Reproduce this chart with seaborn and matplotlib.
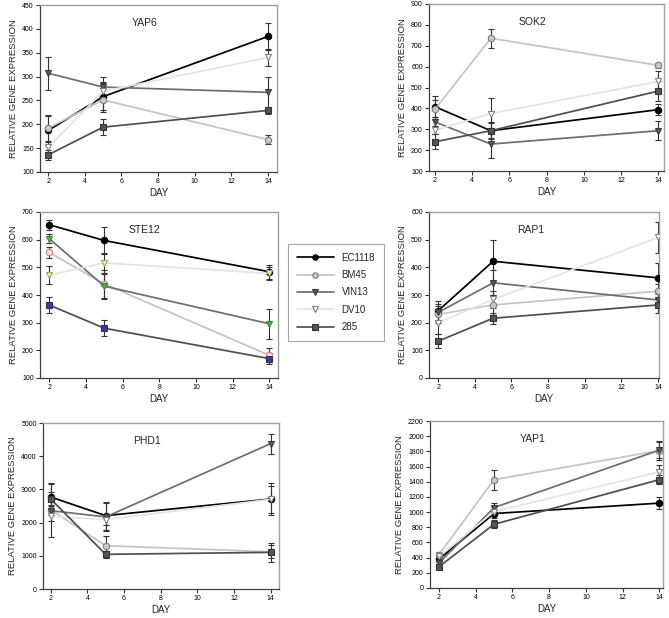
import matplotlib
matplotlib.use("Agg")
import matplotlib.pyplot as plt
import seaborn as sns
import pandas as pd

sns.set_style("ticks")
plt.rcParams['font.family'] = ['Liberation Sans', 'DejaVu Sans']

days = [2, 5, 14]
strains = ["EC1118", "BM45", "VIN13", "DV10", "285"]

# values per strain (rows in order of `strains`), columns = days
yap6_vals = [[187, 258, 384], [192, 251, 168], [307, 278, 267], [152, 269, 340], [136, 194, 229]]
yap6_errs = [[30, 28, 28], [28, 25, 10], [35, 22, 33], [10, 20, 18], [10, 17, 8]]

sok2_vals = [[408, 293, 394], [395, 736, 606], [335, 229, 293], [295, 375, 529], [240, 293, 483]]
sok2_errs = [[50, 40, 25], [45, 45, 12], [25, 68, 45], [20, 77, 50], [35, 35, 50]]

ste12_vals = [[654, 597, 484], [554, 440, 182], [604, 432, 296], [472, 516, 478], [364, 280, 170]]
ste12_errs = [[18, 48, 25], [20, 50, 25], [15, 45, 55], [32, 35, 25], [28, 28, 20]]

rap1_vals = [[243, 422, 362], [230, 264, 314], [237, 344, 282], [200, 284, 508], [133, 216, 264]]
rap1_errs = [[35, 75, 55], [30, 35, 25], [30, 45, 20], [40, 30, 57], [25, 20, 30]]

phd1_vals = [[2770, 2210, 2710], [2390, 1305, 1120], [2360, 2170, 4378], [2190, 2090, 2700], [2710, 1044, 1104]]
phd1_errs = [[420, 420, 480], [150, 280, 200], [800, 420, 300], [150, 150, 400], [200, 100, 280]]

yap1_vals = [[380, 981, 1118], [440, 1427, 1810], [330, 1060, 1816], [420, 1007, 1529], [280, 840, 1427]]
yap1_errs = [[40, 60, 80], [40, 130, 120], [40, 55, 110], [30, 60, 90], [30, 50, 60]]

genes = ["YAP6", "SOK2", "STE12", "RAP1", "PHD1", "YAP1"]

line_colors = ["#000000", "#c4c4c4", "#6e6e6e", "#e4e4e4", "#4e4e4e"]
markers = ["o", "o", "v", "v", "s"]
face_colors = ["#000000", "#c8c8c8", "#5a5a5a", "#ffffff", "#555555"]
edge_colors = ["#000000", "#808080", "#3a3a3a", "#808080", "#333333"]
ste12_faces = ["#000000", "#f2dede", "#4caf50", "#f4f0a0", "#3c3c90"]
ste12_edges = ["#000000", "#d08080", "#3a8a3a", "#a0a070", "#30306a"]

W, H = 669, 618
fig = plt.figure(figsize=(W / 100, H / 100), dpi=100)

def rect(l, r, t, b):
    return [l / W, (H - b) / H, (r - l) / W, (b - t) / H]

panels = [
    ("YAP6", yap6_vals, yap6_errs, rect(40, 277, 5, 172), (100, 450), 50, (1.55, 14.5)),
    ("SOK2", sok2_vals, sok2_errs, rect(429, 664, 4, 171), (100, 900), 100, (1.68, 14.3)),
    ("STE12", ste12_vals, ste12_errs, rect(40, 278, 212, 378), (100, 700), 100, (1.5, 14.47)),
    ("RAP1", rap1_vals, rap1_errs, rect(429, 659, 212, 378), (0, 600), 100, (1.5, 14.05)),
    ("PHD1", phd1_vals, phd1_errs, rect(43, 279, 423, 589), (0, 5000), 1000, (1.58, 14.46)),
    ("YAP1", yap1_vals, yap1_errs, rect(430, 663, 421, 588), (0, 2200), 200, (1.51, 14.2)),
]

handles = []
for gi, (gene, vals, errs, pos, ylim, ystep, xlim) in enumerate(panels):
    ax = fig.add_axes(pos)
    for si, strain in enumerate(strains):
        df = pd.DataFrame({"DAY": days, "value": vals[si]})
        fc = ste12_faces[si] if gene == "STE12" else face_colors[si]
        ec = ste12_edges[si] if gene == "STE12" else edge_colors[si]
        ax.errorbar(days, vals[si], yerr=errs[si], fmt="none", ecolor="#333333",
                    elinewidth=0.8, capsize=2.5, capthick=0.8, zorder=2 + si * 0.1)
        sns.lineplot(data=df, x="DAY", y="value", ax=ax, color=line_colors[si],
                     marker=markers[si], markersize=4.6, markerfacecolor=fc,
                     markeredgecolor=ec, markeredgewidth=0.8, linewidth=1.25,
                     label=strain, legend=False, zorder=3 + si * 0.1)
    if gi == 0:
        handles = ax.get_lines()
    ax.set_xlim(*xlim)
    ax.set_ylim(*ylim)
    ax.set_xticks([2, 4, 6, 8, 10, 12, 14])
    ax.set_yticks(list(range(ylim[0], ylim[1] + 1, ystep)))
    ax.tick_params(labelsize=5, length=3, width=0.8, direction="out", pad=1.5,
                   colors="#333333", labelcolor="#000000")
    ax.set_xlabel("DAY", fontsize=7, labelpad=2)
    ax.set_ylabel("RELATIVE GENE EXPRESSION", fontsize=6.8, labelpad=3)
    for side in ["left", "bottom"]:
        ax.spines[side].set_color("#404040")
        ax.spines[side].set_linewidth(0.9)
    for side in ["top", "right"]:
        ax.spines[side].set_color("#a0a0a0")
        ax.spines[side].set_linewidth(1.0)
        ax.spines[side].set_visible(True)
    ax.text(0.44, 0.89, gene, transform=ax.transAxes, ha="center", va="center",
            fontsize=7.5)

leg_handles = [h for h in handles if h.get_label() in strains]
leg = fig.legend(leg_handles, strains, loc="upper left",
                 bbox_to_anchor=(288 / W, 1 - 244 / H), borderaxespad=0,
                 fontsize=7, markerscale=0.85,
                 handlelength=3.8, labelspacing=0.75, fancybox=False,
                 frameon=True, borderpad=0.9, handletextpad=0.8)
leg.get_frame().set_edgecolor("#909090")
leg.get_frame().set_linewidth(0.8)

fig.savefig("out.png", dpi=100)
